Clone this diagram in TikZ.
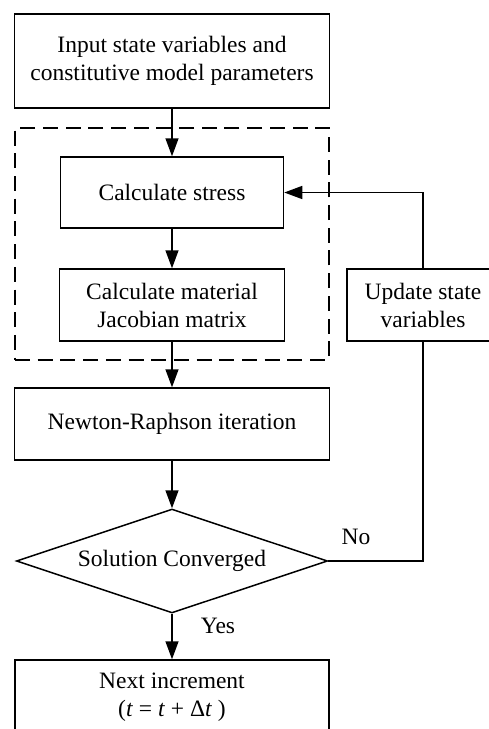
\documentclass[tikz,border=0pt]{standalone}
\usepackage{fontspec}
\setmainfont{Liberation Serif}
\usetikzlibrary{shapes.geometric,arrows.meta}
\begin{document}
\begin{tikzpicture}[x=1pt,y=-1pt,
  txt/.style={font=\fontsize{23.5}{28}\selectfont},
  box/.style={draw, line width=1.5pt, rectangle, inner sep=0pt, align=center, txt},
  decide/.style={draw, line width=1.5pt, diamond, aspect=3, inner sep=0pt, align=center, txt},
  grpbox/.style={draw, line width=1.5pt, dash pattern=on 15pt off 7.7pt, rectangle, inner sep=0pt},
  arr/.style={line width=1.5pt, -{Triangle[length=18pt,width=13pt]}},
  ln/.style={line width=1.5pt}]
\useasboundingbox (0,0) rectangle (489,729);
\node[box, minimum width=315, minimum height=94] (top) at (172,61) {Input state variables and\\constitutive model parameters};
\node[grpbox, minimum width=314, minimum height=232] (grp) at (172,244) {};
\node[box, minimum width=223, minimum height=71] (stress) at (172,192.5) {Calculate stress};
\node[box, minimum width=225, minimum height=72] (jac) at (172,305) {Calculate material\\Jacobian matrix};
\node[box, minimum width=152, minimum height=72] (update) at (423,305) {Update state\\variables};
\node[box, minimum width=315, minimum height=72] (newton) at (172,424) {Newton-Raphson iteration};
\node[decide, minimum width=311, minimum height=104] (dia) at (172,561) {Solution Converged};
\node[box, minimum width=314, minimum height=74] (next) at (172,697) {Next increment\\(\textit{t} = \textit{t} + Δ\textit{t} )};
\node[txt, inner sep=0pt] (no) at (356,537) {No};
\node[txt, inner sep=0pt] (yes) at (218,626) {Yes};
\draw[arr] (top.south) -- (stress.north);
\draw[arr] (stress.south) -- (jac.north);
\draw[arr] (jac.south) -- (newton.north);
\draw[arr] (newton.south) -- (dia.north);
\draw[arr] (dia.south) -- (next.north);
\draw[arr] (update.north) |- (stress.east);
\draw[ln] (dia.east) -| (update.south);
\end{tikzpicture}
\end{document}
